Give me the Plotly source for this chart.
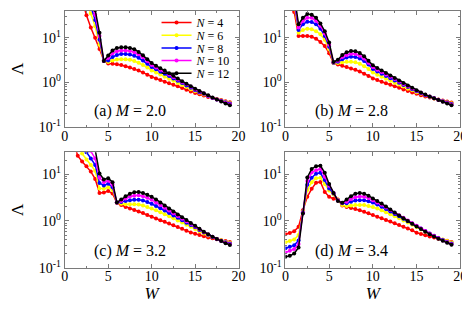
import math
import plotly.graph_objects as go

# ---------------- data ----------------
W = [0, 0.5, 1, 1.5, 2, 2.5, 3, 3.5, 4, 4.5, 5, 5.5, 6, 6.5, 7, 7.5, 8, 8.5, 9, 9.5,
     10, 10.5, 11, 11.5, 12, 12.5, 13, 13.5, 14, 14.5, 15, 15.5, 16, 16.5, 17, 17.5, 18, 18.5, 19]

N_LABELS = ["<i>N</i> = 4", "<i>N</i> = 6", "<i>N</i> = 8", "<i>N</i> = 10", "<i>N</i> = 12"]
COLORS = ["#ff0000", "#ffff00", "#0000ff", "#ff00ff", "#000000"]
PANEL_LABELS = ["(a) <i>M</i> = 2.0", "(b) <i>M</i> = 2.8", "(c) <i>M</i> = 3.2", "(d) <i>M</i> = 3.4"]
Y_TICKVALS = [0.1, 1, 10]
Y_TICKTEXT = ["10<sup>-1</sup>", "10<sup>0</sup>", "10<sup>1</sup>"]
Y_MINORVALS = [0.2, 0.3, 0.4, 0.5, 0.6, 0.7, 0.8, 0.9, 2, 3, 4, 5, 6, 7, 8, 9, 20, 30, 40]
X_TICKVALS = [0, 5, 10, 15, 20]

# panel (a) M = 2.0
a_n4 = [900, 600, 400, 200, 70, 32, 17, 10, 5.6, 3.1, 2.65, 2.6, 2.55, 2.45, 2.3, 2.15, 2.0, 1.83, 1.65, 1.48,
        1.32, 1.22, 1.12, 1.03, 0.95, 0.88, 0.81, 0.74, 0.68, 0.625, 0.575, 0.54, 0.505, 0.47, 0.445, 0.42, 0.4, 0.375, 0.355]
a_n6 = [1500, 1000, 600, 350, 130, 60, 35, 18, 7, 3.0, 2.85, 3.1, 3.25, 3.3, 3.3, 3.2, 3.0, 2.75, 2.45, 2.15,
        1.85, 1.66, 1.49, 1.34, 1.2, 1.08, 0.97, 0.87, 0.78, 0.7, 0.63, 0.58, 0.535, 0.49, 0.445, 0.418, 0.392, 0.367, 0.345]
a_n8 = [2000, 1300, 800, 450, 180, 80, 50, 25, 9, 3.0, 3.1, 3.7, 4.1, 4.3, 4.3, 4.2, 3.95, 3.55, 3.1, 2.6,
        2.2, 1.95, 1.73, 1.55, 1.38, 1.22, 1.08, 0.96, 0.85, 0.75, 0.66, 0.6, 0.55, 0.495, 0.445, 0.413, 0.385, 0.358, 0.333]
a_n10 = [2500, 1600, 1000, 550, 230, 110, 65, 33, 11, 3.0, 3.5, 4.5, 5.0, 5.2, 5.2, 5.05, 4.75, 4.25, 3.65, 3.0,
         2.45, 2.15, 1.9, 1.7, 1.5, 1.32, 1.16, 1.02, 0.9, 0.79, 0.69, 0.62, 0.56, 0.5, 0.447, 0.41, 0.375, 0.347, 0.32]
a_n12 = [3000, 2000, 1200, 700, 300, 150, 85, 42, 13, 3.0, 4.0, 5.2, 5.9, 6.1, 6.1, 5.9, 5.5, 4.8, 4.05, 3.3,
         2.7, 2.35, 2.07, 1.83, 1.6, 1.4, 1.22, 1.06, 0.93, 0.82, 0.72, 0.64, 0.57, 0.51, 0.455, 0.41, 0.37, 0.335, 0.305]

# panel (b) M = 2.8
b_n4 = [300, 150, 38, 11, 11, 11, 10.5, 9.5, 8.0, 6.5, 4.5, 2.7, 2.5, 2.35, 2.2, 2.05, 1.9, 1.75, 1.55, 1.38,
        1.22, 1.12, 1.03, 0.95, 0.88, 0.81, 0.75, 0.69, 0.64, 0.59, 0.55, 0.515, 0.48, 0.455, 0.43, 0.41, 0.39, 0.37, 0.35]
b_n6 = [400, 200, 55, 13, 15, 16, 15.5, 14, 12, 9, 5.5, 2.7, 2.7, 2.8, 2.9, 2.9, 2.8, 2.6, 2.3, 2.0,
        1.65, 1.48, 1.34, 1.2, 1.08, 0.98, 0.89, 0.8, 0.72, 0.66, 0.6, 0.55, 0.505, 0.47, 0.435, 0.405, 0.38, 0.357, 0.337]
b_n8 = [500, 250, 65, 15, 20, 23, 22.5, 20, 16, 11, 6.3, 2.75, 2.9, 3.3, 3.6, 3.75, 3.7, 3.4, 3.0, 2.5,
        2.0, 1.75, 1.56, 1.39, 1.24, 1.1, 0.98, 0.87, 0.78, 0.7, 0.63, 0.57, 0.515, 0.475, 0.437, 0.403, 0.375, 0.35, 0.327]
b_n10 = [600, 300, 75, 17, 24, 28, 28, 24, 18.5, 12.5, 7, 2.8, 3.05, 3.7, 4.1, 4.35, 4.3, 3.95, 3.4, 2.75,
         2.2, 1.92, 1.7, 1.5, 1.33, 1.18, 1.04, 0.92, 0.82, 0.73, 0.645, 0.58, 0.522, 0.477, 0.438, 0.402, 0.37, 0.342, 0.316]
b_n12 = [700, 350, 90, 20, 28, 34, 33, 28, 21, 14, 7.8, 2.85, 3.2, 4.1, 4.7, 5.05, 5.0, 4.55, 3.85, 3.05,
         2.4, 2.1, 1.85, 1.62, 1.42, 1.25, 1.1, 0.97, 0.85, 0.75, 0.66, 0.59, 0.53, 0.48, 0.44, 0.4, 0.365, 0.335, 0.305]

# panel (c) M = 3.2
c_n4 = [200, 100, 50, 25, 19, 15, 11.5, 8, 4.0, 4.1, 4.4, 3.9, 2.45, 2.2, 2.0, 1.85, 1.72, 1.6, 1.48, 1.35,
        1.23, 1.13, 1.04, 0.96, 0.88, 0.81, 0.74, 0.68, 0.62, 0.57, 0.53, 0.5, 0.47, 0.445, 0.425, 0.405, 0.385, 0.37, 0.355]
c_n6 = [400, 200, 100, 45, 28, 21, 16, 12, 5.0, 4.9, 5.3, 4.6, 2.5, 2.35, 2.3, 2.3, 2.3, 2.25, 2.15, 2.0,
        1.85, 1.7, 1.55, 1.4, 1.27, 1.15, 1.03, 0.93, 0.83, 0.75, 0.67, 0.6, 0.54, 0.49, 0.45, 0.415, 0.385, 0.36, 0.34]
c_n8 = [700, 350, 180, 90, 45, 30, 22, 16, 6.5, 5.8, 6.3, 5.3, 2.5, 2.55, 2.7, 2.8, 2.85, 2.85, 2.75, 2.55,
        2.35, 2.1, 1.88, 1.67, 1.48, 1.32, 1.17, 1.04, 0.92, 0.82, 0.73, 0.645, 0.57, 0.505, 0.455, 0.412, 0.378, 0.35, 0.327]
c_n10 = [1000, 500, 250, 130, 70, 45, 32, 22, 8.5, 6.8, 7.3, 6.0, 2.5, 2.7, 3.05, 3.35, 3.5, 3.55, 3.4, 3.15,
         2.85, 2.5, 2.2, 1.92, 1.68, 1.46, 1.28, 1.12, 0.99, 0.87, 0.76, 0.665, 0.58, 0.512, 0.458, 0.41, 0.373, 0.342, 0.316]
c_n12 = [2000, 1000, 500, 250, 130, 80, 50, 34, 10.5, 7.8, 8.3, 6.8, 2.5, 2.9, 3.4, 3.85, 4.15, 4.2, 4.0, 3.65,
         3.3, 2.9, 2.5, 2.15, 1.85, 1.6, 1.38, 1.2, 1.05, 0.91, 0.79, 0.68, 0.59, 0.52, 0.46, 0.41, 0.37, 0.335, 0.305]

# panel (d) M = 3.4
d_n4 = [0.52, 0.55, 0.6, 0.75, 1.7, 3.3, 4.9, 6.6, 6.9, 4.2, 3.3, 3.0, 2.9, 2.15, 2.0, 1.9, 1.8, 1.7, 1.58, 1.46,
        1.35, 1.24, 1.14, 1.05, 0.97, 0.89, 0.82, 0.75, 0.69, 0.63, 0.56, 0.525, 0.495, 0.465, 0.44, 0.415, 0.395, 0.375, 0.355]
d_n6 = [0.35, 0.37, 0.4, 0.5, 1.6, 4.6, 6.8, 8.3, 8.5, 6.2, 4.5, 3.7, 2.9, 2.2, 2.1, 2.15, 2.2, 2.2, 2.2, 2.1,
        2.0, 1.85, 1.7, 1.55, 1.4, 1.27, 1.15, 1.03, 0.93, 0.83, 0.74, 0.66, 0.59, 0.53, 0.48, 0.435, 0.4, 0.37, 0.345]
d_n8 = [0.26, 0.28, 0.3, 0.38, 1.55, 6.0, 8.5, 10.3, 10.8, 7.6, 5.0, 3.9, 2.8, 2.4, 2.4, 2.6, 2.75, 2.8, 2.78, 2.65,
        2.48, 2.25, 2.02, 1.8, 1.6, 1.42, 1.26, 1.12, 0.99, 0.88, 0.78, 0.69, 0.61, 0.54, 0.48, 0.43, 0.39, 0.355, 0.33]
d_n10 = [0.21, 0.23, 0.25, 0.32, 1.5, 7.2, 11, 12.3, 13.1, 8.9, 5.7, 4.0, 2.75, 2.45, 2.6, 2.95, 3.25, 3.35, 3.3, 3.1,
         2.8, 2.5, 2.22, 1.96, 1.72, 1.51, 1.33, 1.17, 1.03, 0.9, 0.79, 0.69, 0.61, 0.535, 0.475, 0.425, 0.382, 0.348, 0.318]
d_n12 = [0.17, 0.18, 0.2, 0.27, 1.45, 8.6, 13.1, 15, 15.4, 10.8, 6.2, 4.0, 2.7, 2.45, 2.9, 3.4, 3.85, 4.0, 3.85, 3.5,
         3.05, 2.7, 2.38, 2.05, 1.76, 1.52, 1.32, 1.15, 1.0, 0.87, 0.76, 0.67, 0.59, 0.52, 0.465, 0.415, 0.375, 0.34, 0.31]

# ---------------- figure ----------------
FW, FH = 470, 309
FONT = "Liberation Serif"
GRAY = "#7a7a7a"

panels = [
    ([a_n4, a_n6, a_n8, a_n10, a_n12], "x", "y", 40),
    ([b_n4, b_n6, b_n8, b_n10, b_n12], "x2", "y2", 40),
    ([c_n4, c_n6, c_n8, c_n10, c_n12], "x3", "y3", 30),
    ([d_n4, d_n6, d_n8, d_n10, d_n12], "x4", "y4", 30),
]
LEGEND_IDS = ["legend", "legend2", "legend3", "legend4", "legend5"]

fig = go.Figure()
for p, (series, xa, ya, ytop) in enumerate(panels):
    for k, vals in enumerate(series):
        fig.add_trace(go.Scatter(
            x=W, y=vals, xaxis=xa, yaxis=ya, mode="lines+markers",
            name=N_LABELS[k], legend=LEGEND_IDS[k], showlegend=(p == 0),
            line=dict(color=COLORS[k], width=1.5),
            marker=dict(color=COLORS[k], size=4, symbol="circle"),
        ))

def px_x(a, b):
    return [a / FW, b / FW]

def px_y(top, bottom):
    return [1 - bottom / FH, 1 - top / FH]

xdom = [px_x(54, 232), px_x(280, 459), px_x(54, 232), px_x(280, 459)]
ydom = [px_y(3, 122), px_y(3, 122), px_y(148, 266.5), px_y(148, 266.5)]

common = dict(showline=True, linecolor=GRAY, linewidth=1, mirror="ticks", ticks="inside",
              ticklen=4, tickcolor=GRAY, showgrid=False, zeroline=False,
              tickfont=dict(family=FONT, size=14, color="black"))

layout = dict(width=FW, height=FH, margin=dict(l=0, r=0, t=0, b=0),
              paper_bgcolor="white", plot_bgcolor="white",
              font=dict(family=FONT, color="black"))

for p, (series, xa, ya, ytop) in enumerate(panels):
    xname = "xaxis" if xa == "x" else "xaxis" + xa[1:]
    yname = "yaxis" if ya == "y" else "yaxis" + ya[1:]
    xax = dict(common, domain=xdom[p], anchor=ya, range=[0, 20], tickmode="array",
               tickvals=X_TICKVALS, ticklabelstandoff=-4,
               minor=dict(dtick=2.5, tick0=0, ticks="inside", ticklen=2, tickcolor=GRAY, showgrid=False))
    yax = dict(common, domain=ydom[p], anchor=xa, type="log", range=[-1, math.log10(ytop)],
               tickmode="array", tickvals=Y_TICKVALS, ticktext=Y_TICKTEXT,
               minor=dict(tickmode="array", tickvals=Y_MINORVALS, ticks="inside", ticklen=2,
                          tickcolor=GRAY, showgrid=False))
    if p in (0, 2):
        yax["title"] = dict(text="Λ", font=dict(family=FONT, size=17), standoff=18)
    if p in (2, 3):
        xax["title"] = dict(text="<i>W</i>", font=dict(family=FONT, size=17), standoff=0)
    layout[xname] = xax
    layout[yname] = yax

legend_rows_px = [15, 28, 41, 54, 67]
for k, lid in enumerate(LEGEND_IDS):
    layout[lid] = dict(x=148 / FW, y=1 - legend_rows_px[k] / FH, xanchor="left", yanchor="middle",
                       bgcolor="rgba(0,0,0,0)", borderwidth=0,
                       font=dict(family=FONT, size=12, color="black"),
                       itemwidth=30, tracegroupgap=0)

annotations = []
for p, (series, xa, ya, ytop) in enumerate(panels):
    annotations.append(dict(text=PANEL_LABELS[p], xref=xa + " domain", yref=ya + " domain",
                            x=0.155, y=0.14, xanchor="left", yanchor="middle", showarrow=False,
                            font=dict(family=FONT, size=16, color="black")))
layout["annotations"] = annotations

fig.update_layout(**layout)
fig.write_html("out.html")
